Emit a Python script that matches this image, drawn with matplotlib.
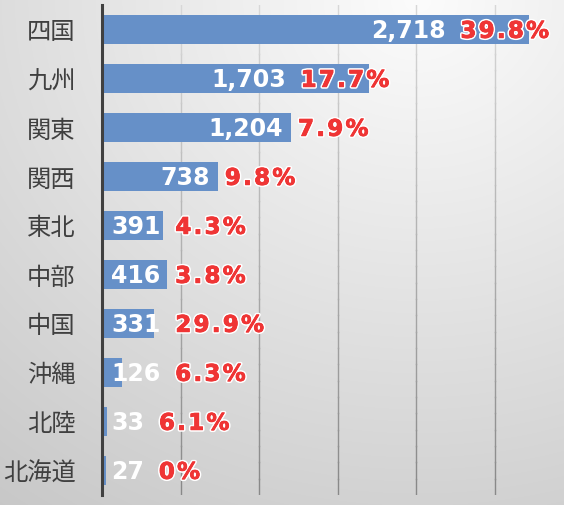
import numpy as np
import matplotlib
matplotlib.use("Agg")
import matplotlib.pyplot as plt
import matplotlib.patheffects as pe

categories = ["四国", "九州", "関東", "関西", "東北", "中部", "中国", "沖縄", "北陸", "北海道"]
values = [2718, 1703, 1204, 738, 391, 416, 331, 126, 33, 27]
pct_labels = ["39.8%", "17.7%", "7.9%", "9.8%", "4.3%", "3.8%", "29.9%", "6.3%", "6.1%", "0%"]
value_labels = [f"{v:,}" for v in values]
label_modes = ["over", "over", "end", "end", "base", "base", "base", "base", "base", "base"]

W, H, DPI = 564, 505, 100
plt.rcParams['font.family'] = ['Noto Sans CJK JP', 'DejaVu Sans']
fig = plt.figure(figsize=(W / DPI, H / DPI), dpi=DPI)

# background radial gradient
bg = fig.add_axes([0, 0, 1, 1], zorder=-10)
yy, xx = np.mgrid[0:H, 0:W]
cx, cy = 0.74 * W, 0.0
d = np.sqrt(((xx - cx) / W) ** 2 + ((yy - cy) / H) ** 2)
g = np.clip(252 - 42 * d, 195, 252) / 255.0
bg.imshow(np.dstack([g, g, g]), aspect='auto', extent=[0, 1, 0, 1], origin='upper')
bg.axis('off')

left = 102 / W
ax = fig.add_axes([left, 1 - 495 / H, 1 - left, 490 / H])
ax.patch.set_alpha(0)
y = np.arange(len(categories))
ax.barh(y, values, height=0.6, color='#6690c8', zorder=3)
ax.set_xlim(0, 2942)
ax.set_ylim(len(categories) - 0.5, -0.5)
ax.set_yticks(y)
ax.set_yticklabels(categories, fontsize=17.5, color='#404040')
ax.tick_params(axis='y', length=0, pad=19)
ax.set_xticks(np.arange(500, 3000, 500))
ax.tick_params(axis='x', length=0, labelbottom=False)
for s in ['top', 'right', 'bottom']:
    ax.spines[s].set_visible(False)
ax.spines['left'].set_color('#404040')
ax.spines['left'].set_linewidth(2.2)
ax.spines['left'].set_zorder(5)

# gradient gridlines
nseg = 30
for xt in ax.get_xticks():
    for k in range(nseg):
        t = (k + 0.5) / nseg
        c = 0.85 - 0.32 * (1 - t)
        ax.axvline(xt, ymin=k / nseg, ymax=(k + 1) / nseg, color=(c, c, c), lw=1.0, zorder=1)

SP = '\u200a'
def spaced(s):
    return SP.join(s)

red = '#ef3535'
vfont = dict(fontsize=17, fontweight='bold', family='DejaVu Sans', va='baseline')
pfont = dict(fontsize=16.5, fontweight='bold', family='DejaVu Sans', va='baseline')
halo = [pe.withStroke(linewidth=2.8, foreground='white'),
        pe.withStroke(linewidth=0.6, foreground=red)]
vdy = -8.6   # pixels: baseline below bar centre so digits are centred
pdy = -8.3
for i, (v, vl, pl, m) in enumerate(zip(values, value_labels, pct_labels, label_modes)):
    pl = spaced(pl)
    if m == 'over':
        pt = ax.annotate(pl, xy=(v, i), xytext=(20, pdy), textcoords='offset pixels',
                         ha='right', color=red, zorder=6, path_effects=halo, **pfont)
        ax.annotate(vl, xy=(0, i), xycoords=(pt, 'data'), xytext=(-15, vdy),
                    textcoords='offset pixels', ha='right', color='white', zorder=6, **vfont)
    else:
        if m == 'end':
            vt = ax.annotate(vl, xy=(v, i), xytext=(-8, vdy), textcoords='offset pixels',
                             ha='right', color='white', zorder=6, **vfont)
        else:
            vt = ax.annotate(vl, xy=(0, i), xytext=(9, vdy), textcoords='offset pixels',
                             ha='left', color='white', zorder=6, **vfont)
        ax.annotate(pl, xy=(1, i), xycoords=(vt, 'data'), xytext=(15, pdy),
                    textcoords='offset pixels', ha='left', color=red, zorder=6,
                    path_effects=halo, **pfont)

fig.savefig('out.png', dpi=DPI)
